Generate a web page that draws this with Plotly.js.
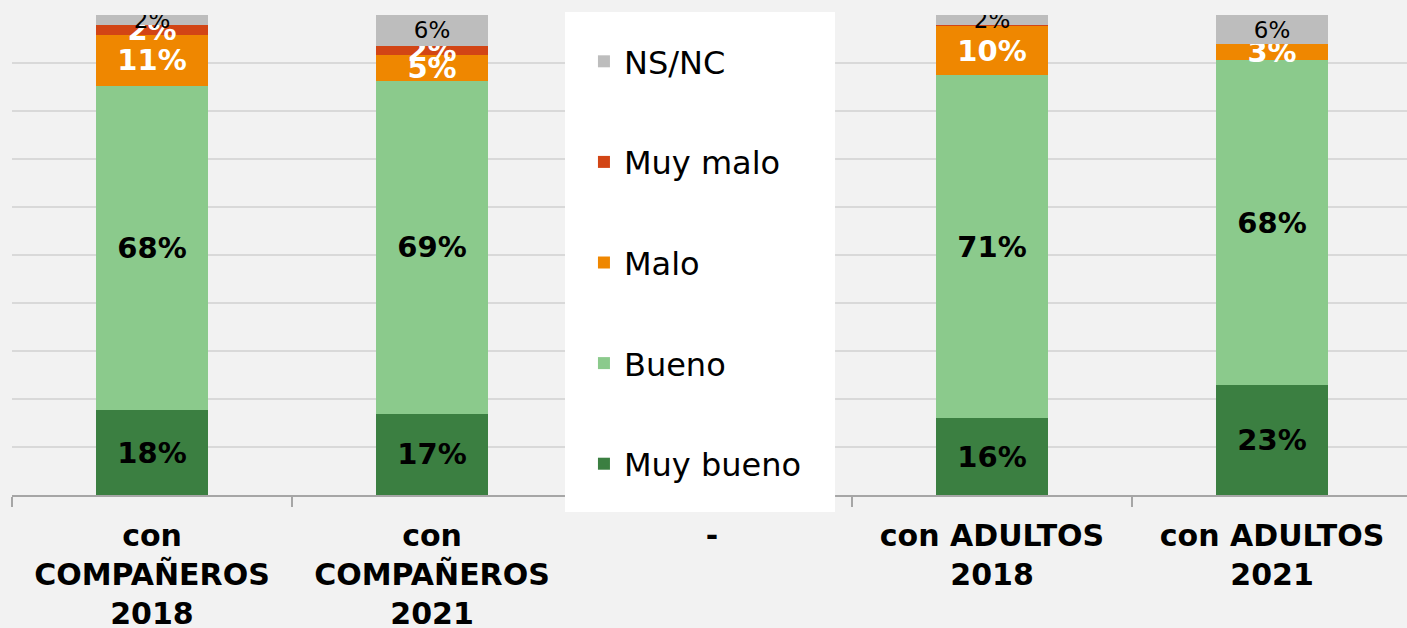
<!DOCTYPE html>
<html>
<head>
<meta charset="utf-8">
<script src="https://cdn.plot.ly/plotly-3.0.1.min.js"></script>
<style>html,body{margin:0;padding:0;background:#f2f2f2;}#chart{width:1407px;height:628px;}</style>
</head>
<body>
<div id="chart"></div>
<script>
const categories = ["con<br>COMPAÑEROS<br>2018", "con<br>COMPAÑEROS<br>2021", "-", "con ADULTOS<br>2018", "con ADULTOS<br>2021"];
const muyBueno = [17.7, 16.9, null, 16.0, 22.9];
const bueno    = [67.6, 69.4, null, 71.4, 67.7];
const malo     = [10.6, 5.3, null, 10.3, 3.3];
const muyMalo  = [2.0, 2.0, null, 0.3, 0];
const nsnc     = [2.1, 6.4, null, 2.0, 6.1];

const FONT = "DejaVu Sans";
function labels(vals){ return vals.map(v => (v !== null && v >= 1) ? Math.round(v) + "%" : ""); }

const seriesDefs = [
  {name: "Muy bueno", y: muyBueno, color: "#3b7f41", tcolor: "#000000", bold: true, size: 29, rank: 5},
  {name: "Bueno",     y: bueno,    color: "#8bca8c", tcolor: "#000000", bold: true, size: 29, rank: 4},
  {name: "Malo",      y: malo,     color: "#ef8700", tcolor: "#ffffff", bold: true, size: 29, rank: 3},
  {name: "Muy malo",  y: muyMalo,  color: "#d24515", tcolor: "#ffffff", bold: true, size: 29, rank: 2},
  {name: "NS/NC",     y: nsnc,     color: "#bdbdbd", tcolor: "#000000", bold: false, size: 23, rank: 1}
];

const traces = seriesDefs.map((s, i) => ({
  type: "bar",
  name: s.name,
  x: categories,
  y: s.y,
  marker: {color: s.color},
  width: 0.4,
  text: labels(s.y),
  textposition: "inside",
  insidetextanchor: "middle",
  constraintext: "none",
  textangle: 0,
  textfont: {family: FONT, size: s.size, color: s.tcolor, weight: s.bold ? "bold" : "normal"},
  legendgroup: "g" + i,
  legendrank: s.rank,
  hoverinfo: "name+y"
}));

const layout = {
  width: 1407, height: 628,
  paper_bgcolor: "#f2f2f2", plot_bgcolor: "#f2f2f2",
  margin: {l: 12, r: 0, t: 15, b: 133},
  barmode: "stack",
  showlegend: true,
  legend: {
    x: 0.41, y: 0.9604, xanchor: "left", yanchor: "top",
    bgcolor: "rgba(255,255,255,0)",
    traceorder: "grouped",
    tracegroupgap: 56,
    maxheight: 600,
    font: {family: FONT, size: 32, color: "#000000"}
  },
  xaxis: {
    type: "category",
    range: [-0.5, 4.482],
    showgrid: false,
    showline: true, linecolor: "#a6a6a6", linewidth: 2,
    ticks: "outside", tickson: "boundaries", ticklen: 10, tickcolor: "#a6a6a6", tickwidth: 2,
    tickfont: {family: FONT, size: 30, color: "#000000", weight: "bold"},
    ticklabelstandoff: 13
  },
  yaxis: {
    range: [0, 100],
    dtick: 10,
    showgrid: true, gridcolor: "#d9d9d9", gridwidth: 2,
    showticklabels: false, zeroline: false, showline: false, ticks: ""
  },
  shapes: [{
    type: "rect", xref: "paper", yref: "paper", layer: "above",
    x0: 0.3964, x1: 0.59, y0: -0.0354, y1: 1.00625,
    fillcolor: "#ffffff", line: {width: 0}
  }]
};

Plotly.newPlot("chart", traces, layout, {displayModeBar: false, staticPlot: true});
</script>
</body>
</html>
